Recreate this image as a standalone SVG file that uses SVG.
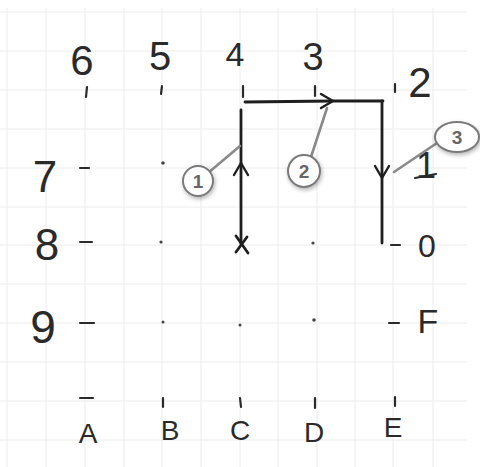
<svg xmlns="http://www.w3.org/2000/svg" width="480" height="467" viewBox="0 0 480 467">
<defs>
<style>
.grid line{stroke:#ececec;stroke-width:1}
.hw{font-family:"Liberation Sans","DejaVu Sans",sans-serif;fill:#2a2a2a;text-anchor:middle;font-weight:300}
.tk{stroke:#2a2a2a;stroke-width:2.2;stroke-linecap:round;fill:none}
.dot{fill:#444}
.pen{stroke:#1e1e1e;stroke-width:2.8;fill:none;stroke-linecap:round;stroke-linejoin:round}
.lead{stroke:#8a8a8a;stroke-width:2.6;stroke-linecap:round}
.bub{fill:#fff;stroke:#7a7a7a;stroke-width:2}
.bt{font-family:"Liberation Sans","DejaVu Sans",sans-serif;font-weight:bold;fill:#666;text-anchor:middle}
</style>
<marker id="arr" viewBox="-14 -9 16 18" markerWidth="16" markerHeight="18" refX="0" refY="0" orient="auto" markerUnits="userSpaceOnUse">
<path d="M-12,-7 L0,0 L-12,7" fill="none" stroke="#1e1e1e" stroke-width="2.4" stroke-linecap="round" stroke-linejoin="round"/>
</marker>
<filter id="sh" x="-40%" y="-40%" width="180%" height="180%">
<feDropShadow dx="1" dy="2" stdDeviation="2" flood-color="#000" flood-opacity="0.3"/>
</filter>
</defs>
<rect width="480" height="467" fill="#fff"/>
<g class="grid">
<line x1="7" y1="8" x2="7" y2="467"/><line x1="46" y1="8" x2="46" y2="467"/><line x1="85" y1="8" x2="85" y2="467"/><line x1="124" y1="8" x2="124" y2="467"/><line x1="162" y1="8" x2="162" y2="467"/><line x1="201" y1="8" x2="201" y2="467"/><line x1="240" y1="8" x2="240" y2="467"/><line x1="278" y1="8" x2="278" y2="467"/><line x1="317" y1="8" x2="317" y2="467"/><line x1="355" y1="8" x2="355" y2="467"/><line x1="393" y1="8" x2="393" y2="467"/><line x1="433" y1="8" x2="433" y2="467"/>
<line x1="0" y1="12" x2="467" y2="12"/><line x1="0" y1="51" x2="467" y2="51"/><line x1="0" y1="90" x2="467" y2="90"/><line x1="0" y1="129" x2="467" y2="129"/><line x1="0" y1="168" x2="467" y2="168"/><line x1="0" y1="207" x2="467" y2="207"/><line x1="0" y1="245" x2="467" y2="245"/><line x1="0" y1="284" x2="467" y2="284"/><line x1="0" y1="323" x2="467" y2="323"/><line x1="0" y1="362" x2="467" y2="362"/><line x1="0" y1="401" x2="467" y2="401"/><line x1="0" y1="440" x2="467" y2="440"/>
</g>
<g id="top-labels">
<text class="hw" x="82" y="75" font-size="42">6</text>
<text class="hw" x="160" y="70" font-size="40">5</text>
<text class="hw" x="235" y="66" font-size="34">4</text>
<text class="hw" x="313" y="70" font-size="38">3</text>
<text class="hw" x="420" y="97" font-size="42">2</text>
<path class="tk" d="M87,87 L86,97 M162,86 L161,94 M243,86 L243,97 M315,86 L315,96 M395,84 L395,92"/>
</g>
<g id="left-labels">
<text class="hw" x="45" y="192" font-size="44">7</text>
<text class="hw" x="47" y="260" font-size="44">8</text>
<text class="hw" x="43" y="343" font-size="46">9</text>
<path class="tk" d="M80,168 L89,168 M80,242 L92,242 M80,323 L94,323"/>
</g>
<g id="right-labels">
<text class="hw" x="426" y="178" font-size="36">1</text>
<path class="tk" d="M415,178 L436,174"/>
<text class="hw" x="427" y="257" font-size="32">0</text>
<text class="hw" x="428" y="333" font-size="34">F</text>
<path class="tk" d="M391,245 L400,245 M389,323 L399,323"/>
</g>
<g id="bottom-labels">
<text class="hw" x="88" y="443" font-size="28">A</text>
<text class="hw" x="170" y="440" font-size="28">B</text>
<text class="hw" x="240" y="440" font-size="28">C</text>
<text class="hw" x="314" y="442" font-size="28">D</text>
<text class="hw" x="393" y="437" font-size="28">E</text>
<path class="tk" d="M80,398 L93,398 M163,398 L163,407 M240,398 L241,407 M315,398 L315,408 M395,397 L395,406"/>
</g>
<g id="dots">
<circle class="dot" cx="163" cy="163" r="1.8"/>
<circle class="dot" cx="161" cy="242" r="1.6"/>
<circle class="dot" cx="313" cy="243" r="1.6"/>
<circle class="dot" cx="163" cy="322" r="1.5"/>
<circle class="dot" cx="240" cy="325" r="1.5"/>
<circle class="dot" cx="314" cy="320" r="1.8"/>
</g>
<g id="start-x">
<path class="pen" d="M236,236 L248,253 M247,237 L236,252" stroke-width="2.2"/>
</g>
<g id="connectors">
<path class="pen" d="M241,244 L241,163 L241,110" marker-mid="url(#arr)"/>
<path class="pen" d="M245,102 L333,101 L383,101" marker-mid="url(#arr)"/>
<path class="pen" d="M382,101 L382,178 L382,243" marker-mid="url(#arr)"/>
</g>
<g id="callout-1">
<line class="lead" x1="208" y1="173" x2="240" y2="146"/>
<circle class="bub" cx="198" cy="181" r="15" filter="url(#sh)"/>
<text class="bt" x="198" y="188" font-size="19">1</text>
</g>
<g id="callout-2">
<line class="lead" x1="311" y1="157" x2="327" y2="108"/>
<circle class="bub" cx="304" cy="171" r="16" filter="url(#sh)"/>
<text class="bt" x="304" y="178" font-size="19">2</text>
</g>
<g id="callout-3">
<line class="lead" x1="437" y1="143" x2="394" y2="172"/>
<ellipse class="bub" cx="457" cy="137" rx="22" ry="15" filter="url(#sh)"/>
<text class="bt" x="457" y="144" font-size="19">3</text>
</g>
</svg>
